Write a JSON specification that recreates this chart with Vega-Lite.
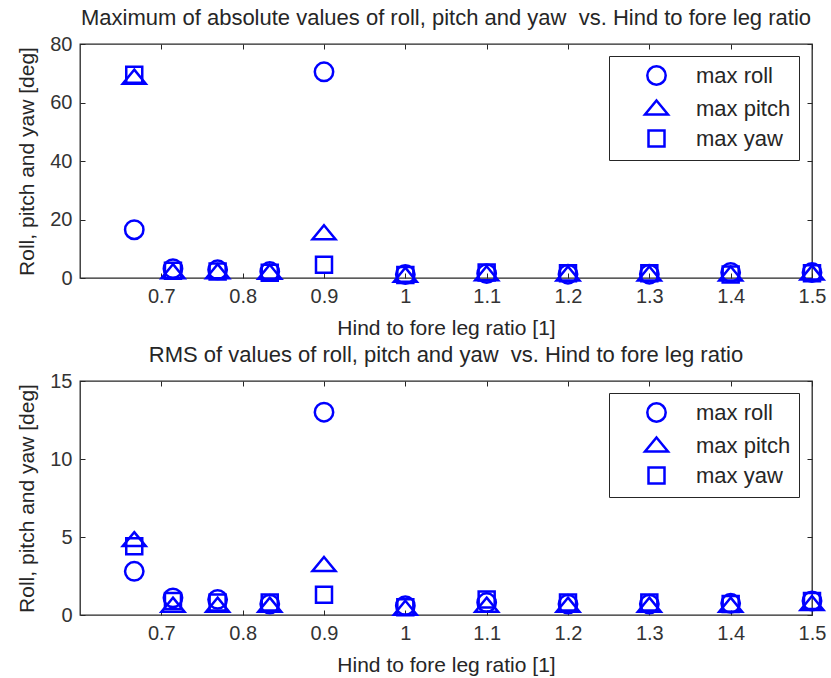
{
  "$schema": "https://vega.github.io/schema/vega-lite/v6.json",
  "autosize": {"type": "pad"},
  "padding": {"left": 16, "top": 6, "right": 5, "bottom": 5},
  "bounds": "flush",
  "spacing": 103,
  "background": "white",
  "config": {
    "font": "Liberation Sans",
    "view": {"stroke": "#262626", "strokeWidth": 1.3},
    "axis": {
      "grid": false,
      "domain": false,
      "labelFont": "Liberation Sans",
      "labelFontSize": 20,
      "labelColor": "#333333",
      "labelFlush": false,
      "labelOverlap": false,
      "titleFont": "Liberation Sans",
      "titleFontSize": 21,
      "titleFontWeight": "normal",
      "titleColor": "#262626",
      "tickColor": "#262626",
      "tickSize": -5,
      "tickWidth": 1
    },
    "title": {"font": "Liberation Sans", "fontSize": 22, "fontWeight": "normal", "color": "#262626", "frame": "group", "anchor": "middle", "offset": 4},
    "legend": {
      "orient": "none",
      "legendX": 529,
      "legendY": 12,
      "strokeColor": "#262626",
      "fillColor": "white",
      "padding": 8,
      "labelFont": "Liberation Sans",
      "labelFontSize": 22,
      "labelColor": "#262626",
      "symbolSize": 400,
      "symbolStrokeWidth": 2.5,
      "symbolStrokeColor": "#0000ff",
      "symbolFillColor": "transparent",
      "symbolOffset": 28,
      "labelOffset": 28,
      "rowPadding": 5
    }
  },
  "datasets": {
    "maxAbs": [
      {"ratio": 0.6667, "series": "max roll", "deg": 16.5},
      {"ratio": 0.6667, "series": "max pitch", "deg": 68.5},
      {"ratio": 0.6667, "series": "max yaw", "deg": 69.5},
      {"ratio": 0.7143, "series": "max roll", "deg": 3.2},
      {"ratio": 0.7143, "series": "max pitch", "deg": 2.0},
      {"ratio": 0.7143, "series": "max yaw", "deg": 2.5},
      {"ratio": 0.7692, "series": "max roll", "deg": 2.8},
      {"ratio": 0.7692, "series": "max pitch", "deg": 2.0},
      {"ratio": 0.7692, "series": "max yaw", "deg": 2.2},
      {"ratio": 0.8333, "series": "max roll", "deg": 2.2},
      {"ratio": 0.8333, "series": "max pitch", "deg": 1.8},
      {"ratio": 0.8333, "series": "max yaw", "deg": 1.8},
      {"ratio": 0.9, "series": "max roll", "deg": 70.5},
      {"ratio": 0.9, "series": "max pitch", "deg": 15.3},
      {"ratio": 0.9, "series": "max yaw", "deg": 4.5},
      {"ratio": 1.0, "series": "max roll", "deg": 1.2},
      {"ratio": 1.0, "series": "max pitch", "deg": 0.8},
      {"ratio": 1.0, "series": "max yaw", "deg": 1.0},
      {"ratio": 1.1, "series": "max roll", "deg": 1.5},
      {"ratio": 1.1, "series": "max pitch", "deg": 1.3},
      {"ratio": 1.1, "series": "max yaw", "deg": 1.9},
      {"ratio": 1.2, "series": "max roll", "deg": 1.3},
      {"ratio": 1.2, "series": "max pitch", "deg": 1.2},
      {"ratio": 1.2, "series": "max yaw", "deg": 1.6},
      {"ratio": 1.3, "series": "max roll", "deg": 1.3},
      {"ratio": 1.3, "series": "max pitch", "deg": 1.2},
      {"ratio": 1.3, "series": "max yaw", "deg": 1.6},
      {"ratio": 1.4, "series": "max roll", "deg": 1.9},
      {"ratio": 1.4, "series": "max pitch", "deg": 1.2},
      {"ratio": 1.4, "series": "max yaw", "deg": 1.2},
      {"ratio": 1.5, "series": "max roll", "deg": 1.9},
      {"ratio": 1.5, "series": "max pitch", "deg": 1.5},
      {"ratio": 1.5, "series": "max yaw", "deg": 1.6}
    ],
    "rms": [
      {"ratio": 0.6667, "series": "max roll", "deg": 2.8},
      {"ratio": 0.6667, "series": "max pitch", "deg": 4.8},
      {"ratio": 0.6667, "series": "max yaw", "deg": 4.4},
      {"ratio": 0.7143, "series": "max roll", "deg": 1.1},
      {"ratio": 0.7143, "series": "max pitch", "deg": 0.6},
      {"ratio": 0.7143, "series": "max yaw", "deg": 0.9},
      {"ratio": 0.7692, "series": "max roll", "deg": 1.0},
      {"ratio": 0.7692, "series": "max pitch", "deg": 0.6},
      {"ratio": 0.7692, "series": "max yaw", "deg": 0.8},
      {"ratio": 0.8333, "series": "max roll", "deg": 0.7},
      {"ratio": 0.8333, "series": "max pitch", "deg": 0.6},
      {"ratio": 0.8333, "series": "max yaw", "deg": 0.8},
      {"ratio": 0.9, "series": "max roll", "deg": 13.0},
      {"ratio": 0.9, "series": "max pitch", "deg": 3.2},
      {"ratio": 0.9, "series": "max yaw", "deg": 1.3},
      {"ratio": 1.0, "series": "max roll", "deg": 0.6},
      {"ratio": 1.0, "series": "max pitch", "deg": 0.4},
      {"ratio": 1.0, "series": "max yaw", "deg": 0.5},
      {"ratio": 1.1, "series": "max roll", "deg": 0.8},
      {"ratio": 1.1, "series": "max pitch", "deg": 0.6},
      {"ratio": 1.1, "series": "max yaw", "deg": 1.0},
      {"ratio": 1.2, "series": "max roll", "deg": 0.7},
      {"ratio": 1.2, "series": "max pitch", "deg": 0.6},
      {"ratio": 1.2, "series": "max yaw", "deg": 0.8},
      {"ratio": 1.3, "series": "max roll", "deg": 0.7},
      {"ratio": 1.3, "series": "max pitch", "deg": 0.6},
      {"ratio": 1.3, "series": "max yaw", "deg": 0.8},
      {"ratio": 1.4, "series": "max roll", "deg": 0.75},
      {"ratio": 1.4, "series": "max pitch", "deg": 0.6},
      {"ratio": 1.4, "series": "max yaw", "deg": 0.7},
      {"ratio": 1.5, "series": "max roll", "deg": 0.9},
      {"ratio": 1.5, "series": "max pitch", "deg": 0.7},
      {"ratio": 1.5, "series": "max yaw", "deg": 0.9}
    ]
  },
  "vconcat": [
    {
      "width": 732,
      "height": 234,
      "title": {"text": "Maximum of absolute values of roll, pitch and yaw\u00a0 vs. Hind to fore leg ratio"},
      "data": {"name": "maxAbs"},
      "layer": [
        {
          "mark": {"type": "point", "filled": false, "color": "#0000ff", "strokeWidth": 2.5, "size": 400, "opacity": 1},
          "encoding": {
            "x": {"field": "ratio", "type": "quantitative", "scale": {"domain": [0.6, 1.5], "nice": false, "zero": false},
                  "axis": {"orient": "bottom", "values": [0.7, 0.8, 0.9, 1, 1.1, 1.2, 1.3, 1.4, 1.5], "format": "~g", "labelPadding": 13, "title": "Hind to fore leg ratio [1]", "titlePadding": 11}},
            "y": {"field": "deg", "type": "quantitative", "scale": {"domain": [0, 80], "nice": false},
                  "axis": {"orient": "left", "values": [0, 20, 40, 60, 80], "labelPadding": 13, "title": "Roll, pitch and yaw [deg]", "titlePadding": 12}},
            "shape": {"field": "series", "type": "nominal",
                      "scale": {"domain": ["max roll", "max pitch", "max yaw"],
                                "range": ["M-0.92,0A0.92,0.92 0 1,0 0.92,0A0.92,0.92 0 1,0 -0.92,0Z", "M0,-0.8L1.15,0.6L-1.15,0.6Z", "M-0.8,-0.8H0.8V0.8H-0.8Z"]},
                      "legend": {"title": null}}
          }
        },
        {
          "mark": {"type": "point", "opacity": 0},
          "encoding": {
            "x": {"field": "ratio", "type": "quantitative",
                  "axis": {"orient": "top", "values": [0.7, 0.8, 0.9, 1, 1.1, 1.2, 1.3, 1.4, 1.5], "labels": false, "title": null}},
            "y": {"field": "deg", "type": "quantitative",
                  "axis": {"orient": "right", "values": [0, 20, 40, 60, 80], "labels": false, "title": null}}
          }
        }
      ],
      "resolve": {"axis": {"x": "independent", "y": "independent"}}
    },
    {
      "width": 732,
      "height": 234,
      "title": {"text": "RMS of values of roll, pitch and yaw\u00a0 vs. Hind to fore leg ratio"},
      "data": {"name": "rms"},
      "layer": [
        {
          "mark": {"type": "point", "filled": false, "color": "#0000ff", "strokeWidth": 2.5, "size": 400, "opacity": 1},
          "encoding": {
            "x": {"field": "ratio", "type": "quantitative", "scale": {"domain": [0.6, 1.5], "nice": false, "zero": false},
                  "axis": {"orient": "bottom", "values": [0.7, 0.8, 0.9, 1, 1.1, 1.2, 1.3, 1.4, 1.5], "format": "~g", "labelPadding": 13, "title": "Hind to fore leg ratio [1]", "titlePadding": 11}},
            "y": {"field": "deg", "type": "quantitative", "scale": {"domain": [0, 15], "nice": false},
                  "axis": {"orient": "left", "values": [0, 5, 10, 15], "labelPadding": 13, "title": "Roll, pitch and yaw [deg]", "titlePadding": 12}},
            "shape": {"field": "series", "type": "nominal",
                      "scale": {"domain": ["max roll", "max pitch", "max yaw"],
                                "range": ["M-0.92,0A0.92,0.92 0 1,0 0.92,0A0.92,0.92 0 1,0 -0.92,0Z", "M0,-0.8L1.15,0.6L-1.15,0.6Z", "M-0.8,-0.8H0.8V0.8H-0.8Z"]},
                      "legend": {"title": null}}
          }
        },
        {
          "mark": {"type": "point", "opacity": 0},
          "encoding": {
            "x": {"field": "ratio", "type": "quantitative",
                  "axis": {"orient": "top", "values": [0.7, 0.8, 0.9, 1, 1.1, 1.2, 1.3, 1.4, 1.5], "labels": false, "title": null}},
            "y": {"field": "deg", "type": "quantitative",
                  "axis": {"orient": "right", "values": [0, 5, 10, 15], "labels": false, "title": null}}
          }
        }
      ],
      "resolve": {"axis": {"x": "independent", "y": "independent"}}
    }
  ],
  "resolve": {"scale": {"x": "independent", "y": "independent", "shape": "independent"}, "legend": {"shape": "independent"}}
}
